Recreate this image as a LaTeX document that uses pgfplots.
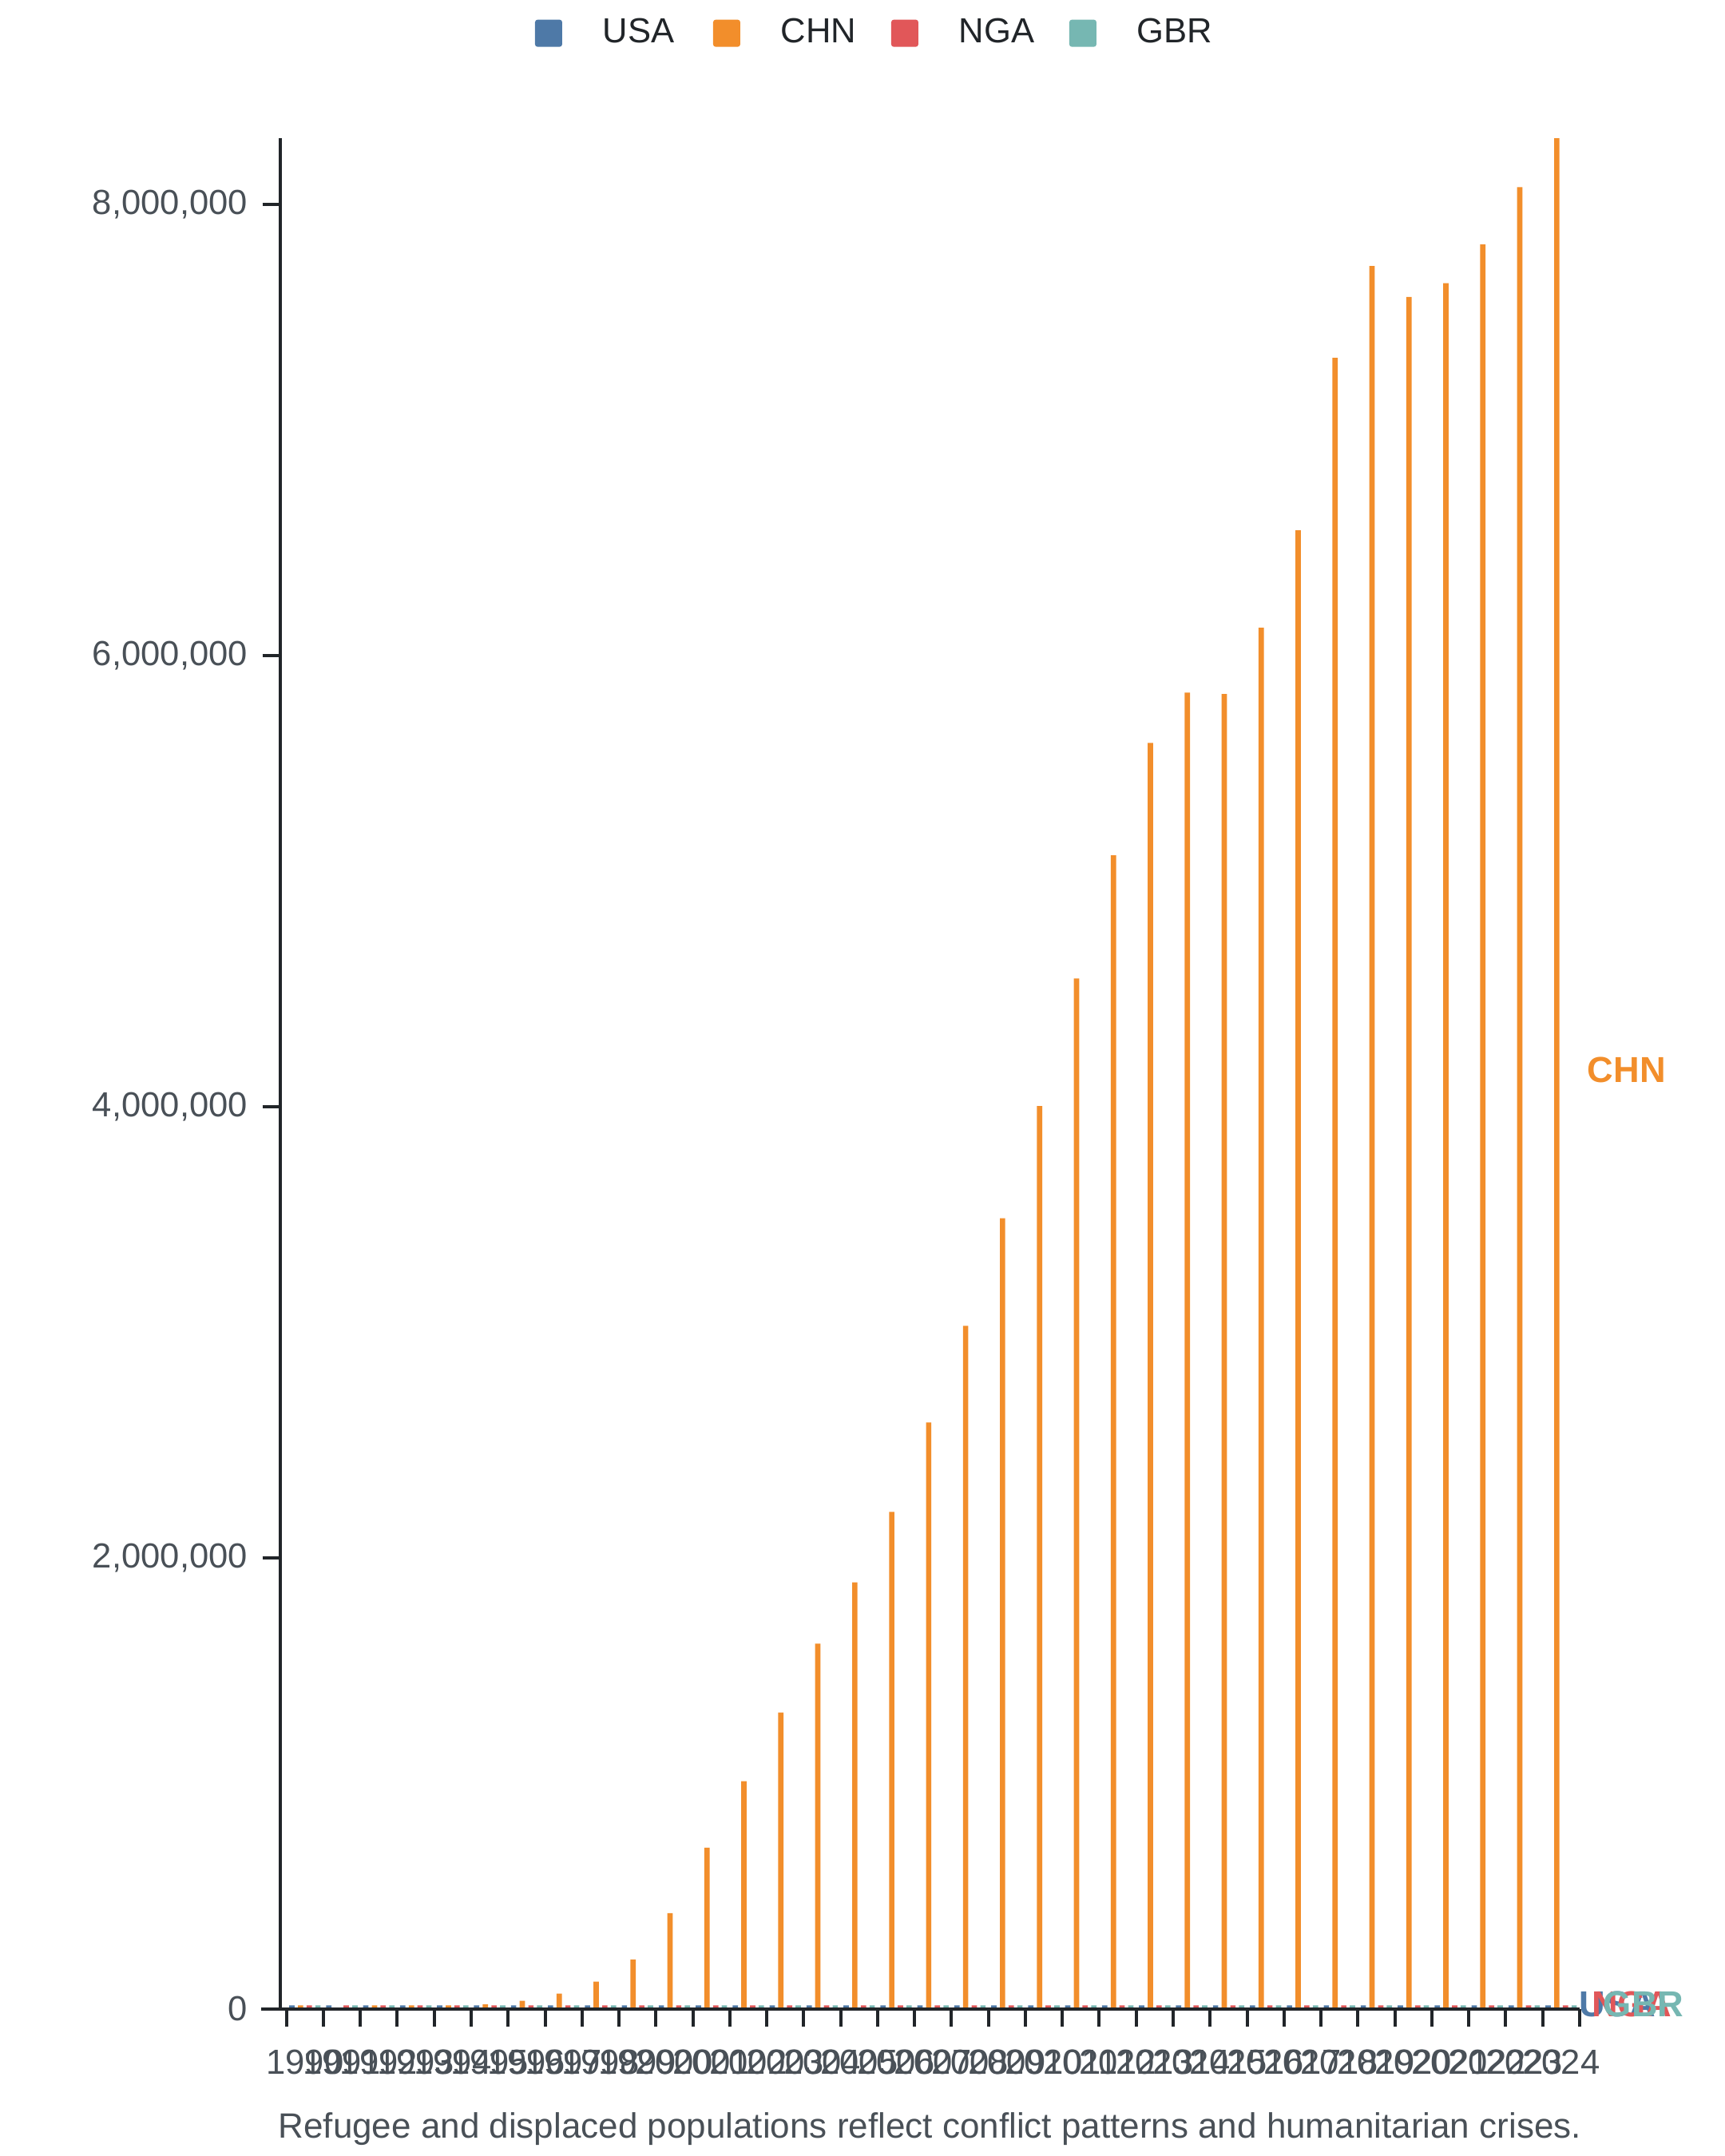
\documentclass[border=0pt]{standalone}
\usepackage{pgfplots}
\pgfplotsset{compat=1.18}
\usepackage{pgfplotstable}
\usepackage{fontspec}
\setmainfont{Liberation Sans}
\definecolor{usa}{HTML}{4E79A7}
\definecolor{chn}{HTML}{F28E2B}
\definecolor{nga}{HTML}{E15759}
\definecolor{gbr}{HTML}{76B7B2}
\definecolor{axisc}{HTML}{212529}
\definecolor{labc}{HTML}{495057}

% x = 0..34 -> 1990..2024
\pgfplotstableread{
x y
0 14500
2 14500
3 14500
4 14500
5 19000
6 35000
7 67000
8 120000
9 218000
10 424000
11 714000
12 1009000
13 1313000
14 1619000
15 1890000
16 2203000
17 2599000
18 3028000
19 3505000
20 4002000
21 4568000
22 5114000
23 5613000
24 5836000
25 5829000
26 6123000
27 6555000
28 7320000
29 7727000
30 7590000
31 7651000
32 7823000
33 8077000
34 8294000
}\chn
\pgfplotstableread{
x y
0 14500
1 14500
2 14500
3 14500
4 14500
5 14500
6 14500
7 14500
8 14500
9 14500
10 14500
11 14500
12 14500
13 14500
14 14500
15 14500
16 14500
17 14500
18 14500
19 14500
20 14500
21 14500
22 14500
23 14500
24 14500
25 14500
26 14500
27 14500
28 14500
29 14500
30 14500
31 14500
32 14500
33 14500
34 14500
}\usa
\pgfplotstableread{
x y
0 14500
1 14500
2 14500
3 14500
4 14500
5 14500
6 14500
7 14500
8 14500
9 14500
10 14500
11 14500
12 14500
13 14500
14 14500
15 14500
16 14500
17 14500
18 14500
19 14500
20 14500
21 14500
22 14500
23 14500
24 14500
25 14500
26 14500
27 14500
28 14500
29 14500
30 14500
31 14500
32 14500
33 14500
34 14500
}\nga
\pgfplotstableread{
x y
0 14500
1 14500
2 14500
3 14500
4 14500
5 14500
6 14500
7 14500
8 14500
9 14500
10 14500
11 14500
12 14500
13 14500
14 14500
15 14500
16 14500
17 14500
18 14500
19 14500
20 14500
21 14500
22 14500
23 14500
24 14500
25 14500
26 14500
27 14500
28 14500
29 14500
30 14500
31 14500
32 14500
33 14500
34 14500
}\gbr

\pgfplotsset{
  sqleg/.style={legend image code/.code={%
    \fill[##1, rounded corners=0.8pt] (0pt,-4.25pt) rectangle (8.5pt,4.25pt);}},
}

\begin{document}
\begin{tikzpicture}
\path[use as bounding box] (0,0) rectangle (540pt,675pt);
\begin{axis}[
  at={(87.675pt,46.125pt)}, anchor=south west,
  scale only axis, width=406.8pt, height=585.6pt,
  xmin=-0.673, xmax=34.5,
  ymin=0, ymax=8294000,
  clip=false,
  axis on top,
  axis x line*=bottom, axis y line*=left,
  axis line style={-, line width=1pt, draw=axisc},
  ybar=1.05pt, bar width=1.67pt,
  xtick={0,1,...,34},
  xticklabels={1990,1991,1992,1993,1994,1995,1996,1997,1998,1999,2000,2001,2002,2003,2004,2005,2006,2007,2008,2009,2010,2011,2012,2013,2014,2015,2016,2017,2018,2019,2020,2021,2022,2023,2024},
  xtick style={draw=none},
  minor xtick={-0.5,0.5,...,34.5},
  minor x tick style={line width=1pt, draw=axisc},
  minor tick length=5.5pt,
  ytick={0,2000000,4000000,6000000,8000000},
  ytick style={line width=1pt, draw=axisc},
  major tick length=5.5pt,
  tick align=outside,
  scaled y ticks=false,
  ticklabel style={font=\fontsize{10.9}{13}\selectfont, text=labc, inner sep=0pt},
  yticklabel style={xshift=-4.5pt, /pgf/number format/.cd, fixed, 1000 sep={,}, assume math mode=true},
  xticklabel style={yshift=-7.25pt},
  xlabel={Refugee and displaced populations reflect conflict patterns and humanitarian crises.},
  xlabel style={at={(axis description cs:0.5,0)}, anchor=base, yshift=-40.6pt, inner sep=0pt, font=\fontsize{11}{13}\selectfont, text=labc},
  legend columns=4,
  legend cell align=left,
  legend style={at={(axis description cs:0.1962,1.0561)}, anchor=west, draw=none, fill=none, inner sep=0pt, outer sep=0pt,
    /tikz/every odd column/.append style={column sep=12.75pt},
    /tikz/every even column/.append style={column sep=10.5pt},
    nodes={inner sep=0pt, text width=24pt, align=left, font=\fontsize{10.9}{13}\selectfont, text=axisc}},
]
\addplot[fill=usa, draw=none, sqleg] table[x=x,y=y] {\usa};
\addlegendentry{USA}
\addplot[fill=chn, draw=none, sqleg] table[x=x,y=y] {\chn};
\addlegendentry{CHN}
\addplot[fill=nga, draw=none, sqleg] table[x=x,y=y] {\nga};
\addlegendentry{NGA}
\addplot[fill=gbr, draw=none, sqleg] table[x=x,y=y] {\gbr};
\addlegendentry{GBR}
\draw[axisc, line width=1pt] (axis cs:-1.19,0) -- (axis cs:-0.673,0);
\node[anchor=west, inner sep=0pt, text=chn, font=\fontsize{11.3}{13}\selectfont\bfseries] at (axis cs:34.70,4162000) {CHN};
\node[anchor=west, inner sep=0pt, text=usa, font=\fontsize{11.3}{13}\selectfont\bfseries] at (axis cs:34.48,19500) {USA};
\node[anchor=west, inner sep=0pt, text=nga, font=\fontsize{11.3}{13}\selectfont\bfseries] at (axis cs:34.81,19500) {NGA};
\node[anchor=west, inner sep=0pt, text=gbr, font=\fontsize{11.3}{13}\selectfont\bfseries] at (axis cs:35.13,19500) {GBR};
\end{axis}
\end{tikzpicture}
\end{document}
